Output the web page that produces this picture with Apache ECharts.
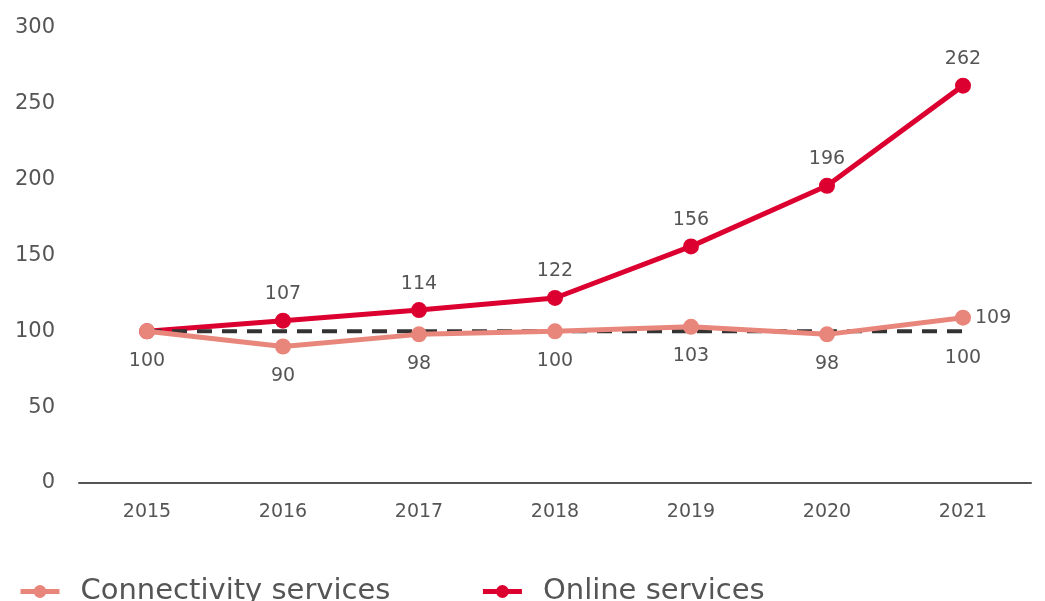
<!DOCTYPE html>
<html>
<head>
<meta charset="utf-8">
<script src="https://cdn.jsdelivr.net/npm/echarts@6/dist/echarts.min.js"></script>
<style>html,body{margin:0;padding:0;background:#fff;}#c{width:1045px;height:601px;}</style>
</head>
<body>
<div id="c"></div>
<script>
var years = ['2015','2016','2017','2018','2019','2020','2021'];
var connectivity = [100, 90, 98, 100, 103, 98, 109];
var online = [100, 107, 114, 122, 156, 196, 262];
var baseline = [100, 100, 100, 100, 100, 100, 100];
var yTicks = [0, 50, 100, 150, 200, 250, 300];

var FONT = 'DejaVu Sans';
var TXT = '#555555';
var chart = echarts.init(document.getElementById('c'));
chart.setOption({
  animation: false,
  textStyle: {fontFamily: FONT},
  grid: {left: 79, right: 14, top: 28, bottom: 118, containLabel: false},
  legend: {
    data: ['Connectivity services', 'Online services'],
    left: 13, top: 572,
    itemWidth: 39, itemHeight: 16, itemGap: 90,
    lineStyle: {width: 5},
    textStyle: {fontSize: 29, color: TXT, fontFamily: FONT, padding: [0,0,0,16]}
  },
  xAxis: {
    type: 'category', data: years, boundaryGap: true,
    axisLine: {lineStyle: {color: '#555', width: 2}},
    axisTick: {show: false},
    axisLabel: {fontSize: 19, color: TXT, margin: 20, fontFamily: FONT}
  },
  yAxis: {
    type: 'value', min: yTicks[0], max: yTicks[yTicks.length-1], interval: 50,
    splitLine: {show: false}, axisLine: {show: false}, axisTick: {show: false},
    axisLabel: {fontSize: 21, color: TXT, margin: 24, fontFamily: FONT}
  },
  series: [
    {
      name: 'Online services', type: 'line', data: online,
      color: '#dc0030', symbol: 'circle', symbolSize: 16,
      lineStyle: {width: 5, color: '#dc0030'},
      itemStyle: {color: '#dc0030'},
      label: {show: true, position: 'top', distance: 9, fontSize: 19, color: TXT, fontFamily: FONT,
        formatter: function(p){ return p.dataIndex === 0 ? '' : p.value; }},
      z: 2
    },
    {
      name: 'baseline', type: 'line', data: baseline,
      symbol: 'circle', symbolSize: 2, showSymbol: true,
      itemStyle: {color: 'rgba(0,0,0,0)'},
      lineStyle: {width: 4, color: '#333', type: [15, 10]},
      label: {show: true, position: 'bottom', distance: 16, fontSize: 19, color: TXT, fontFamily: FONT,
        formatter: function(p){ return p.dataIndex === baseline.length-1 ? String(p.value) : ''; }},
      silent: true, z: 3
    },
    {
      name: 'Connectivity services', type: 'line', data: connectivity,
      color: '#e8867b', symbol: 'circle', symbolSize: 16,
      lineStyle: {width: 5, color: '#e8867b'},
      itemStyle: {color: '#e8867b'},
      label: {show: true, position: 'bottom', distance: 12, fontSize: 19, color: TXT, fontFamily: FONT,
        formatter: function(p){ return p.dataIndex === connectivity.length-1 ? '' : p.value; }},
      z: 4
    },
    {
      name: 'connLast', type: 'line',
      data: connectivity.map(function(v,i){ return i === connectivity.length-1 ? v : '-'; }),
      symbol: 'circle', symbolSize: 16, showSymbol: true,
      itemStyle: {color: 'rgba(0,0,0,0)'}, lineStyle: {width: 0}, silent: true,
      label: {show: true, position: 'right', distance: 4, fontSize: 19, color: TXT, fontFamily: FONT},
      z: 5
    }
  ]
});
</script>
</body>
</html>
